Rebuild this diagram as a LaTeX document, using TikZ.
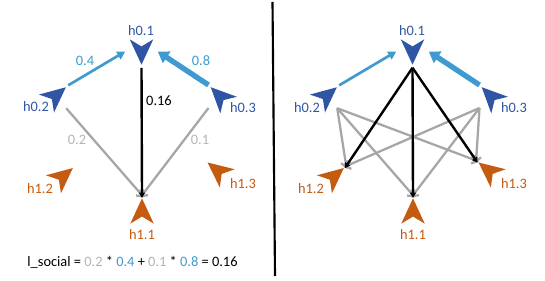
\documentclass[tikz,border=0pt]{standalone}
\usepackage{fontspec}
\setmainfont{Carlito}
\usepackage{tikz}
\usetikzlibrary{arrows.meta, calc}
\definecolor{agentblue}{HTML}{2F55A4}
\definecolor{agentorange}{HTML}{C55A11}
\definecolor{linkblue}{HTML}{3E9AD0}
\definecolor{linkgray}{HTML}{A6A6A6}
\definecolor{numgray}{HTML}{B4B4B4}

\begin{document}
\begin{tikzpicture}[
      x=0.75pt, y=-0.75pt,
      every node/.style={font=\fontsize{10.8}{13}\selectfont},
      agent/.style={circle, inner sep=0pt, minimum size=24pt},
      dart/.style={insert path={
        ($(#1.center)!.81!(#1.north)$) -- ($(#1.center)!1.04!(#1.314)$) --
        ($(#1.center)!.31!(#1.south)$) -- ($(#1.center)!1.04!(#1.226)$) -- cycle}},
      lblblue/.style={text=agentblue},
      lblorange/.style={text=agentorange},
      wthin/.style={draw=linkblue, line width=2pt,
                    -{Triangle[length=6pt, width=6.5pt]}},
      wthick/.style={draw=linkblue, line width=4pt,
                     -{Triangle[length=8pt, width=10pt]}},
      wgray/.style={draw=linkgray, line width=1.7pt, shorten >=-2pt,
                    -{Straight Barb[length=3.5pt, width=7pt]}},
      wblack/.style={draw=black, line width=1.8pt, shorten >=-2pt,
                     -{Triangle[length=4pt, width=4.5pt]}},
    ]
    \useasboundingbox (0,0) rectangle (545,281);

    % left: one output
    \node[agent, rotate=180] (lh01) at (141.5, 51.5)  {};
    \node[agent, rotate=-50] (lh02) at (55.75, 95.75) {};
    \node[agent, rotate=45]  (lh03) at (220, 96.5)    {};
    \node[agent]             (lh11) at (142, 211.5)   {};
    \node[agent, rotate=-50] (lh12) at (62.75, 176.5) {};
    \node[agent, rotate=51]  (lh13) at (217.75, 170.75) {};
    \fill[agentblue, dart=lh01];
    \fill[agentblue, dart=lh02];
    \fill[agentblue, dart=lh03];
    \fill[agentorange, dart=lh11];
    \fill[agentorange, dart=lh12];
    \fill[agentorange, dart=lh13];
    \node[lblblue]   (lh01t) at (141, 31)  {h0.1};
    \node[lblblue]   (lh02t) at (36, 107)  {h0.2};
    \node[lblblue]   (lh03t) at (243, 108) {h0.3};
    \node[lblorange] (lh11t) at (142, 235) {h1.1};
    \node[lblorange] (lh12t) at (40, 189)  {h1.2};
    \node[lblorange] (lh13t) at (243, 184) {h1.3};

    \draw[wthin]  (lh02.north) -- (lh01.east);
    \draw[wthick] (lh03.north) -- (lh01.west);
    \draw[wgray]  (lh02.east) -- (lh11.north);
    \draw[wgray]  (lh03.west) -- (lh11.north);
    \draw[wblack] (lh01.north) -- (lh11.north);
    \node[text=linkblue] (w02) at (85, 61)  {0.4};
    \node[text=linkblue] (w03) at (201, 61) {0.8};
    \node                (w01) at (159, 101) {0.16};
    \node[text=numgray]  (v02) at (77, 140)  {0.2};
    \node[text=numgray]  (v03) at (200, 140) {0.1};

    \node (lsocial) at (132.5, 262)
      {l\_social = \textcolor{numgray}{0.2} * \textcolor{linkblue}{0.4}
       + \textcolor{numgray}{0.1} * \textcolor{linkblue}{0.8} = 0.16};

    % divider
    \coordinate (divtop) at (272.5, 2);
    \coordinate (divbot) at (275, 276);
    \draw[line width=1.6pt] (divtop) -- (divbot);

    % right: all outputs
    \node[agent, rotate=180] (rh01) at (412.5, 51.5)  {};
    \node[agent, rotate=-50] (rh02) at (326.75, 95.75) {};
    \node[agent, rotate=45]  (rh03) at (491, 96.5)    {};
    \node[agent]             (rh11) at (413, 211.5)   {};
    \node[agent, rotate=-50] (rh12) at (333.75, 176.5) {};
    \node[agent, rotate=51]  (rh13) at (488.75, 170.75) {};
    \fill[agentblue, dart=rh01];
    \fill[agentblue, dart=rh02];
    \fill[agentblue, dart=rh03];
    \fill[agentorange, dart=rh11];
    \fill[agentorange, dart=rh12];
    \fill[agentorange, dart=rh13];
    \node[lblblue]   (rh01t) at (412, 31)  {h0.1};
    \node[lblblue]   (rh02t) at (307, 108) {h0.2};
    \node[lblblue]   (rh03t) at (514, 108) {h0.3};
    \node[lblorange] (rh11t) at (413, 235) {h1.1};
    \node[lblorange] (rh12t) at (311, 189) {h1.2};
    \node[lblorange] (rh13t) at (514, 184) {h1.3};

    \draw[wthin]  (rh02.north) -- (rh01.east);
    \draw[wthick] (rh03.north) -- (rh01.west);
    \draw[wgray]  (rh02.east) -- (rh12.north);
    \draw[wgray]  (rh02.east) -- (rh11.north);
    \draw[wgray]  (rh02.east) -- (rh13.north);
    \draw[wgray]  (rh03.west) -- (rh12.north);
    \draw[wgray]  (rh03.west) -- (rh11.north);
    \draw[wgray]  (rh03.west) -- (rh13.north);
    \draw[wblack] (rh01.north) -- (rh12.north);
    \draw[wblack] (rh01.north) -- (rh11.north);
    \draw[wblack] (rh01.north) -- (rh13.north);
  \end{tikzpicture}
\end{document}
